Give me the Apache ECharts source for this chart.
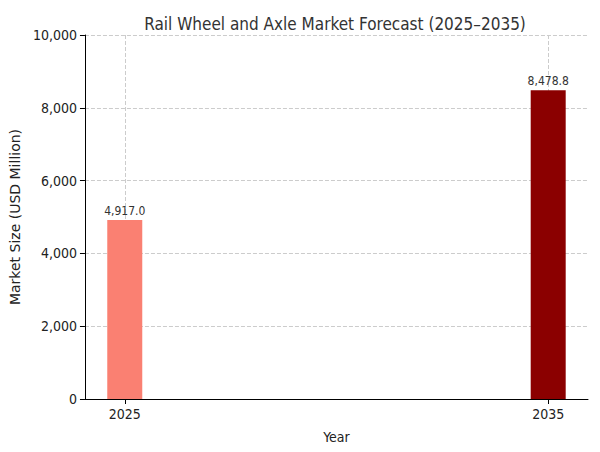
<!DOCTYPE html>
<html><head><meta charset="utf-8">
<script src="https://cdn.jsdelivr.net/npm/echarts@6/dist/echarts.min.js"></script>
<style>html,body{margin:0;background:#fff}#c{width:600px;height:452px}</style>
</head><body><div id="c"></div>
<script>
var years = [2025, 2035];
var values = [4917.0, 8478.8];
var colors = ['#fa8072', '#8b0000'];
var yTicks = [0, 2000, 4000, 6000, 8000, 10000];

var font = 'DejaVu Sans Condensed';
var chart = echarts.init(document.getElementById('c'), null, { renderer: 'svg' });
chart.setOption({
  animation: false,
  title: { text: 'Rail Wheel and Axle Market Forecast (2025\u20132035)', left: 330, top: 10, textAlign: 'center',
    textStyle: { fontFamily: font, fontWeight: 'normal', fontSize: 17, color: '#333' } },
  grid: { left: 71, right: 12, top: 35, bottom: 53 },
  xAxis: {
    type: 'value', min: 2024.06, max: 2035.94,
    name: 'Year', nameLocation: 'middle', nameGap: 31,
    nameTextStyle: { fontFamily: font, fontSize: 14, color: '#222' },
    axisLine: { show: true, onZero: false, lineStyle: { color: '#000' } },
    axisTick: { show: true, customValues: years, lineStyle: { color: '#000' } },
    axisLabel: { customValues: years, fontFamily: font, fontSize: 14, color: '#222', formatter: function(v) { return String(Math.round(v)); } },
    splitLine: { show: true, customValues: years, lineStyle: { color: '#ccc', type: 'dashed' } }
  },
  yAxis: {
    type: 'value', min: 0, max: 10000, interval: 2000,
    name: 'Market Size (USD Million)', nameLocation: 'middle', nameGap: 50,
    nameTextStyle: { fontFamily: 'DejaVu Sans', fontSize: 14, color: '#222' },
    axisLine: { show: true, lineStyle: { color: '#000' } },
    axisTick: { show: true, lineStyle: { color: '#000' } },
    axisLabel: { fontFamily: font, fontSize: 14, color: '#222' },
    splitLine: { lineStyle: { color: '#ccc', type: 'dashed' } }
  },
  series: [{
    type: 'bar', barWidth: 35,
    data: years.map(function(y, i) { return { value: [y, values[i]], itemStyle: { color: colors[i] } }; }),
    label: { show: true, position: 'top', distance: 3, fontFamily: font, fontSize: 12, color: '#333',
      formatter: function(p) { return p.value[1].toLocaleString('en-US', { minimumFractionDigits: 1, maximumFractionDigits: 1 }); } }
  }]
});
</script></body></html>
